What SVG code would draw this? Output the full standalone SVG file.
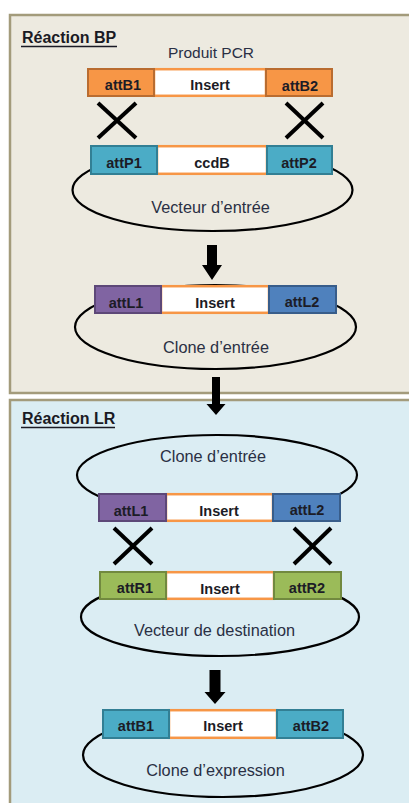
<svg xmlns="http://www.w3.org/2000/svg" width="409" height="803" viewBox="0 0 409 803">
<style>
.panel-bp{fill:#edeae0;stroke:#a39b7b;stroke-width:2.5}
.panel-lr{fill:#dbedf3;stroke:#a39b7b;stroke-width:2.5}
.title{font-family:"Liberation Sans",Arial,sans-serif;font-weight:bold;font-size:16px;fill:#1a1a24}
.uline{stroke:#1a1a24;stroke-width:1.3}
.lbl{font-family:"Liberation Sans",Arial,sans-serif;font-size:16.3px;fill:#2a3044;text-anchor:middle}
.box{font-family:"Liberation Sans",Arial,sans-serif;font-weight:bold;font-size:14.5px;fill:#1c1c26;text-anchor:middle}
.ring{fill:none;stroke:#000;stroke-width:2.2}
.ins{fill:#fff;stroke:#f79646;stroke-width:2.5}
.orange{fill:#f79646;stroke:#b96c30;stroke-width:2}
.teal{fill:#4bacc6;stroke:#327f94;stroke-width:2}
.purple{fill:#8064a2;stroke:#5d4878;stroke-width:2}
.blue{fill:#4f81bd;stroke:#385d8a;stroke-width:2}
.green{fill:#9bbb59;stroke:#71893f;stroke-width:2}
.cross{stroke:#000;stroke-width:4;stroke-linecap:butt}
.arrow{fill:#000}
</style>

<g id="panel-bp">
<rect class="panel-bp" x="10" y="15" width="410" height="378"/>
<text class="title" x="22" y="43">Réaction BP</text>
<line class="uline" x1="21" y1="46.5" x2="117" y2="46.5"/>
</g>
<g id="panel-lr">
<rect class="panel-lr" x="10" y="400" width="410" height="420"/>
<text class="title" x="22" y="424">Réaction LR</text>
<line class="uline" x1="21" y1="427.5" x2="115" y2="427.5"/>
</g>

<g id="pcr-product">
<text class="lbl" x="211" y="58" style="font-size:15.5px">Produit PCR</text>
<rect class="ins" x="154" y="69.2" width="112" height="26.6"/>
<rect class="orange" x="88" y="69" width="66" height="27"/>
<rect class="orange" x="266" y="69" width="66" height="27"/>
<text class="box" x="123" y="90">attB1</text>
<text class="box" x="210" y="90">Insert</text>
<text class="box" x="300" y="90.5">attB2</text>
</g>

<g id="entry-vector">
<ellipse class="ring" cx="212.5" cy="190" rx="140" ry="41"/>
<rect class="ins" x="157" y="146.2" width="110" height="27.6"/>
<rect class="teal" x="91" y="146" width="66" height="28"/>
<rect class="teal" x="267" y="146" width="65" height="28"/>
<text class="box" x="124" y="168">attP1</text>
<text class="box" x="212" y="168">ccdB</text>
<text class="box" x="299" y="168">attP2</text>
<text class="lbl" x="210.5" y="213">Vecteur d’entrée</text>
</g>

<g id="entry-clone-bp">
<ellipse class="ring" cx="215.5" cy="327" rx="140.5" ry="42"/>
<rect class="ins" x="161" y="286.2" width="108" height="26.6"/>
<rect class="purple" x="95" y="286" width="66" height="27"/>
<rect class="blue" x="269" y="286" width="67" height="27"/>
<text class="box" x="126" y="308">attL1</text>
<text class="box" x="215" y="308">Insert</text>
<text class="box" x="302" y="307">attL2</text>
<text class="lbl" x="216" y="353">Clone d’entrée</text>
</g>

<g id="entry-clone-lr">
<ellipse class="ring" cx="217" cy="475" rx="140" ry="40"/>
<rect class="ins" x="166" y="494.2" width="107" height="26.6"/>
<rect class="purple" x="99" y="494" width="67" height="27"/>
<rect class="blue" x="273" y="494" width="67" height="27"/>
<text class="box" x="131" y="516">attL1</text>
<text class="box" x="219" y="516">Insert</text>
<text class="box" x="307" y="515">attL2</text>
<text class="lbl" x="213" y="462">Clone d’entrée</text>
</g>

<g id="destination-vector">
<ellipse class="ring" cx="220" cy="617" rx="139" ry="39"/>
<rect class="ins" x="166" y="572.2" width="108" height="26.6"/>
<rect class="green" x="100" y="572" width="66" height="27"/>
<rect class="green" x="274" y="572" width="67" height="27"/>
<text class="box" x="135" y="593">attR1</text>
<text class="box" x="220" y="594">Insert</text>
<text class="box" x="307" y="593">attR2</text>
<text class="lbl" x="214.5" y="636">Vecteur de destination</text>
</g>

<g id="expression-clone">
<ellipse class="ring" cx="223" cy="755" rx="140" ry="42"/>
<rect class="ins" x="169" y="710.2" width="108" height="27.6"/>
<rect class="teal" x="103" y="710" width="66" height="28"/>
<rect class="teal" x="277" y="710" width="66" height="28"/>
<text class="box" x="136" y="731">attB1</text>
<text class="box" x="223" y="731">Insert</text>
<text class="box" x="311" y="731">attB2</text>
<text class="lbl" x="215.5" y="776">Clone d’expression</text>
</g>

<g id="connectors">
<line class="cross" x1="98" y1="103" x2="136" y2="138"/>
<line class="cross" x1="136" y1="103" x2="98" y2="138"/>
<line class="cross" x1="286" y1="103" x2="323" y2="138"/>
<line class="cross" x1="323" y1="103" x2="286" y2="138"/>
<line class="cross" x1="114" y1="528" x2="152" y2="564"/>
<line class="cross" x1="152" y1="528" x2="114" y2="564"/>
<line class="cross" x1="294" y1="528" x2="331" y2="564"/>
<line class="cross" x1="331" y1="528" x2="294" y2="564"/>
<polygon class="arrow" points="207,245 217,245 217,265 222,265 212,280 202,265 207,265"/>
<polygon class="arrow" points="212,377 220,377 220,404 225.5,404 216,415 206.5,404 212,404"/>
<polygon class="arrow" points="209.5,670 220.5,670 220.5,692 225.5,692 215,704 204.5,692 209.5,692"/>
</g>
</svg>
